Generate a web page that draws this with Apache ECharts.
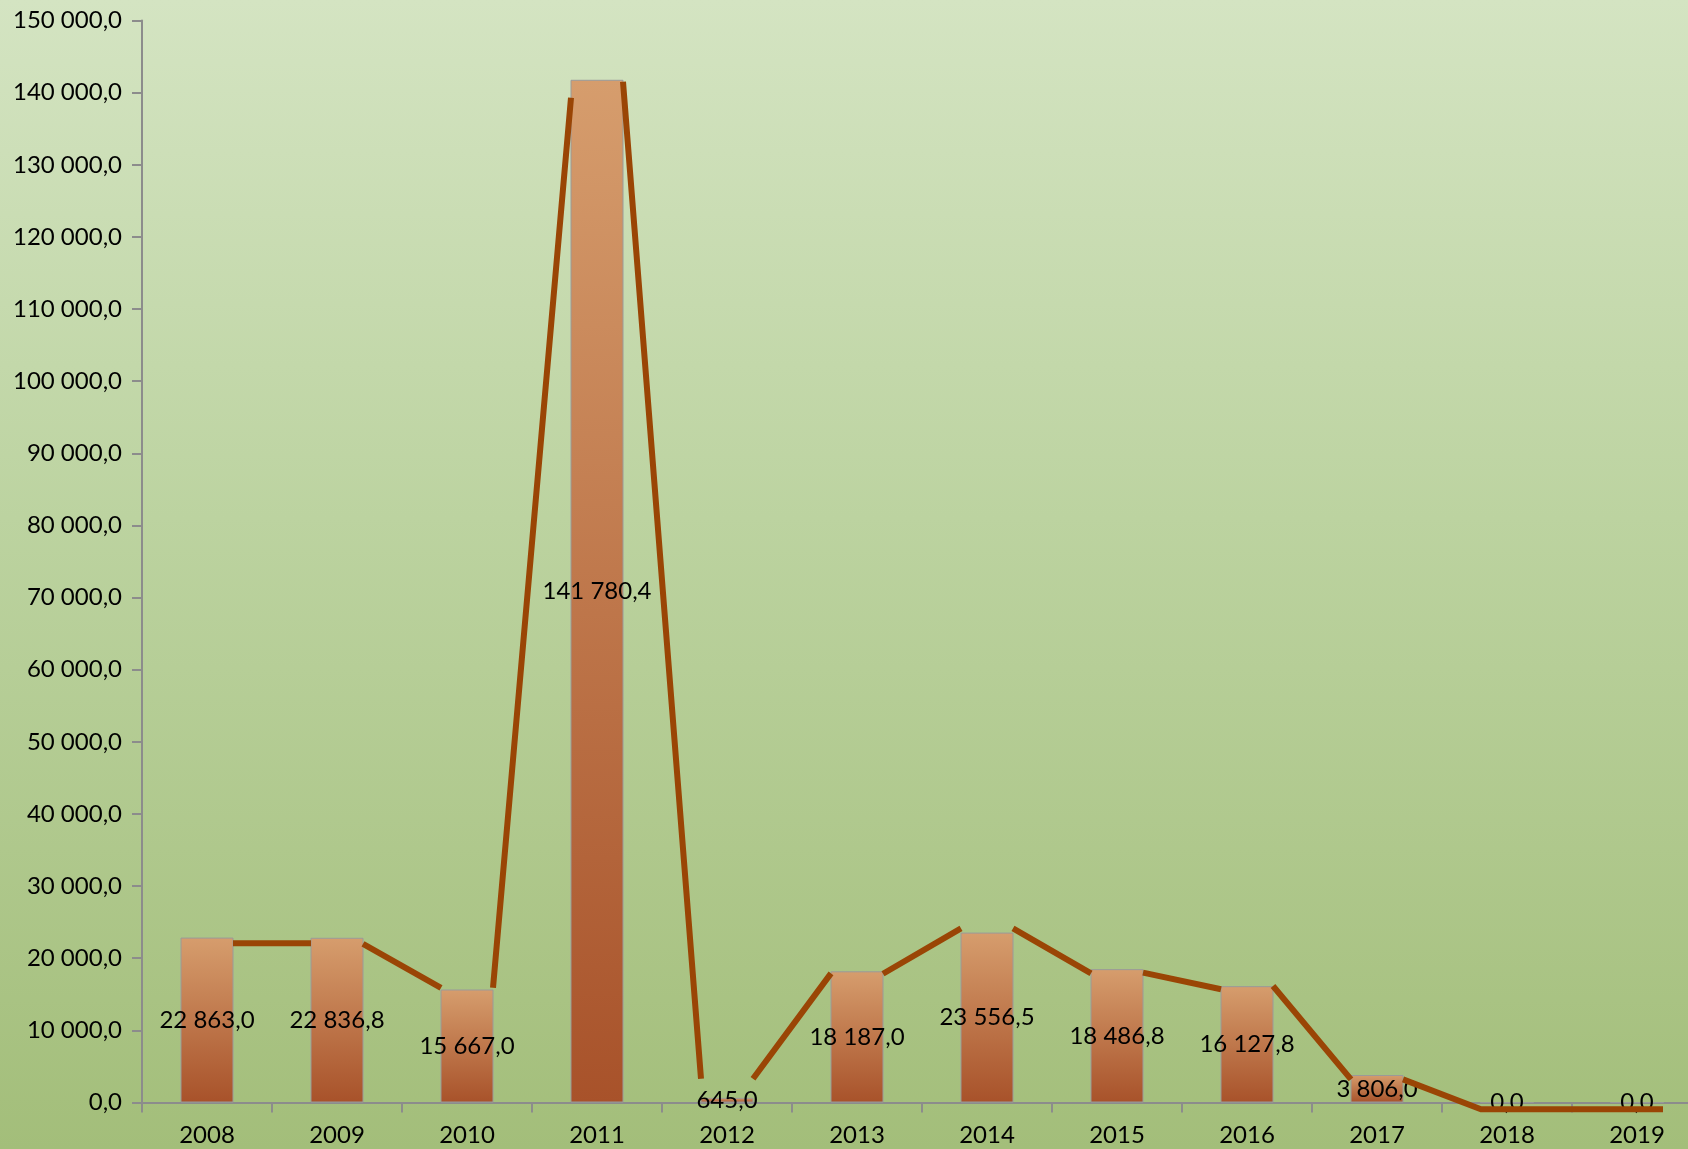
<!DOCTYPE html>
<html>
<head>
<meta charset="utf-8">
<script src="https://cdn.jsdelivr.net/npm/echarts@6/dist/echarts.min.js"></script>
<style>
  html, body { margin: 0; padding: 0; overflow: hidden; width: 1688px; height: 1149px; }
  body { background: linear-gradient(to bottom, #d4e4c2 0%, #bcd3a0 45%, #a3be7a 100%); }
  #chart { width: 1702px; height: 1149px; }
</style>
</head>
<body>
<div id="chart"></div>
<script>
// Categories
const years = ['2008', '2009', '2010', '2011', '2012', '2013', '2014', '2015', '2016', '2017', '2018', '2019'];
// Bar values
const barValues = [22863.0, 22836.8, 15667.0, 141780.4, 645.0, 18187.0, 23556.5, 18486.8, 16127.8, 3806.0, 0.0, 0.0];
// Line values read at the left and right edges of each bar
const lineLeft  = [null, 22070, 15900, 139300, 3300, 17900, 24150, 17900, 15700, 3200, -950, -950];
const lineRight = [22070, 22000, 15900, 141500, 3300, 17850, 24150, 18000, 16150, 3200, -950, -950];
// Value axis ticks
const yMin = 0, yMax = 150000, yStep = 10000;

function fmt(v) {
  const s = Math.abs(v).toFixed(1);
  const parts = s.split('.');
  const intPart = parts[0].replace(/\B(?=(\d{3})+(?!\d))/g, ' ');
  return (v < 0 ? '-' : '') + intPart + ',' + parts[1];
}

const halfBar = 0.2; // half bar width in category units
const lineData = [];
for (let i = 0; i < years.length; i++) {
  if (lineLeft[i] !== null) lineData.push([i - halfBar, lineLeft[i]]);
  if (barValues[i] > 0 && lineLeft[i] !== null) lineData.push([i, '-']);
  lineData.push([i + halfBar, lineRight[i]]);
}

const font = 'Lato, "Open Sans", sans-serif';
const chart = echarts.init(document.getElementById('chart'), null, { renderer: 'canvas' });
chart.setOption({
  backgroundColor: 'transparent',
  animation: false,
  grid: { left: 142, top: 20.5, right: 0, bottom: 46.5, containLabel: false },
  xAxis: [
    {
      type: 'category',
      data: years,
      boundaryGap: true,
      axisLine: { onZero: false, lineStyle: { color: '#8c8c8c', width: 2 } },
      axisTick: { show: true, length: 10, lineStyle: { color: '#8c8c8c', width: 2 } },
      axisLabel: { color: '#000', fontFamily: font, fontSize: 24, margin: 21 },
      splitLine: { show: false }
    },
    {
      type: 'value',
      min: -0.5,
      max: 11.5,
      show: false,
      gridIndex: 0
    }
  ],
  yAxis: {
    type: 'value',
    min: yMin,
    max: yMax,
    interval: yStep,
    axisLine: { show: true, onZero: false, lineStyle: { color: '#8c8c8c', width: 2 } },
    axisTick: { show: true, length: 10, lineStyle: { color: '#8c8c8c', width: 2 } },
    axisLabel: { color: '#000', fontFamily: font, fontSize: 24, margin: 20, formatter: fmt },
    splitLine: { show: false }
  },
  series: [
    {
      type: 'bar',
      data: barValues,
      barWidth: 53,
      z: 2,
      itemStyle: {
        borderColor: '#9a9a9a',
        borderWidth: 1,
        color: new echarts.graphic.LinearGradient(0, 0, 0, 1, [
          { offset: 0, color: '#d69d6d' },
          { offset: 1, color: '#a8522a' }
        ])
      },
      label: {
        show: true,
        position: 'inside',
        color: '#000',
        fontFamily: font,
        fontSize: 24,
        formatter: p => fmt(p.value)
      }
    },
    {
      type: 'line',
      xAxisIndex: 1,
      data: lineData,
      symbol: 'none',
      connectNulls: false,
      clip: false,
      z: 3,
      lineStyle: { color: '#9a4505', width: 6, cap: 'butt', join: 'miter' }
    }
  ]
});
</script>
</body>
</html>
